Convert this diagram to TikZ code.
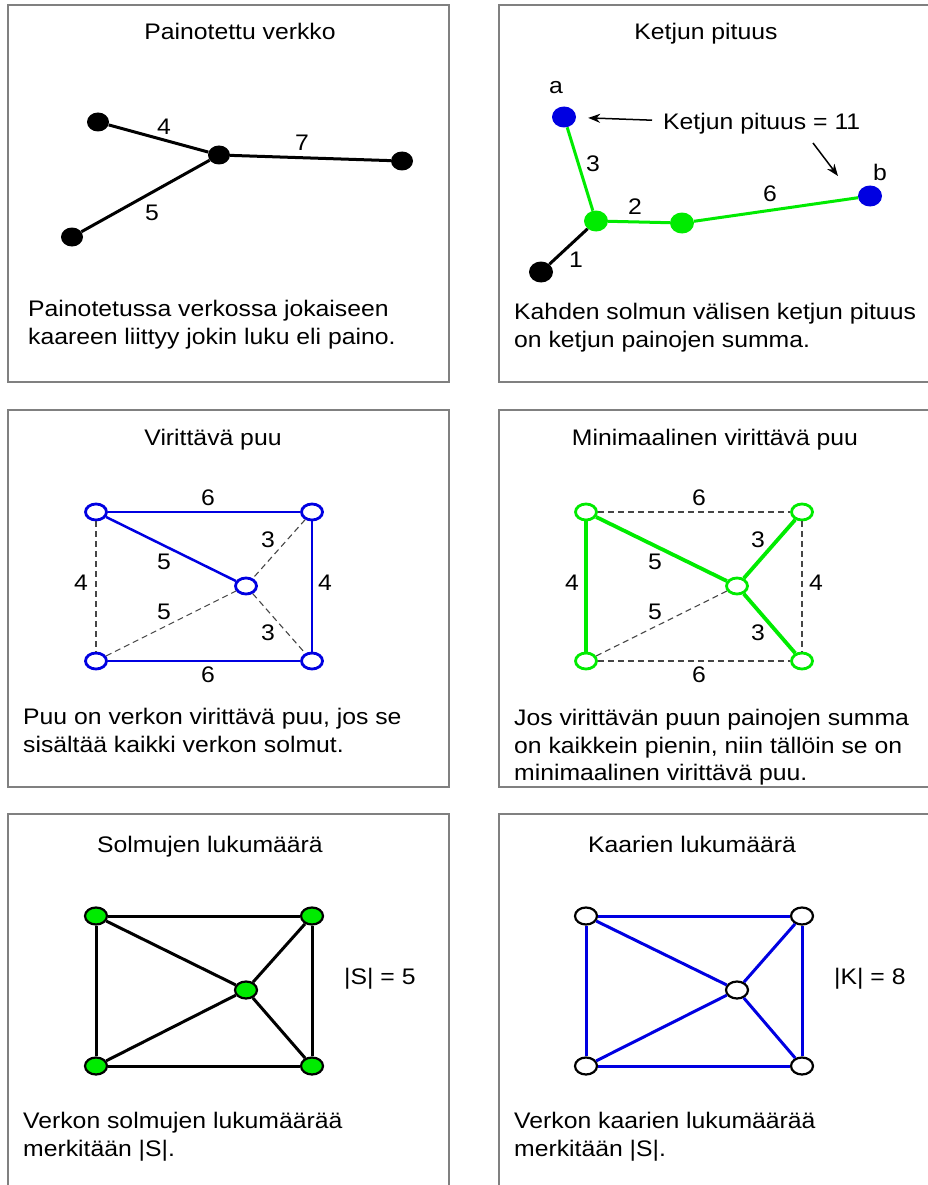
\documentclass[tikz,border=0pt]{standalone}
\usepackage{fontspec}
\setmainfont{Liberation Sans}
\usetikzlibrary{shapes.geometric,arrows.meta}

\definecolor{framegray}{RGB}{128,128,128}
\definecolor{netblue}{RGB}{0,0,225}
\definecolor{netgreen}{RGB}{0,235,0}
\definecolor{dashgray}{RGB}{70,70,70}

\begin{document}
\begin{tikzpicture}[
    x=1pt,
    y=-1pt,
    panel/.style={draw=framegray, line width=1.4pt},
    txt/.style={
        font=\fontsize{22.5}{27.5}\selectfont,
        xscale=1.1,
        inner sep=0pt
    },
    headline/.style={txt, anchor=base},
    caption/.style={txt, align=left, anchor=north west},
    weight/.style={txt},
    ball/.style={ellipse, inner sep=0pt, minimum width=22pt, minimum height=19pt},
    fullball/.style={ball, fill=#1},
    ringball/.style={
        ball,
        draw=#1,
        fill=white,
        line width=2.8pt,
        minimum width=21pt,
        minimum height=16pt
    },
    link/.style={draw=#1, line width=3pt},
    spare/.style={draw=dashgray, line width=1.1pt, dash pattern=on 6pt off 4pt},
    pointer/.style={line width=1.5pt, -{Stealth[length=12pt,width=9pt]}}
]
\useasboundingbox (0,0) rectangle (927,1185);

% Panel frames (the right and bottom ones run off the page)
\draw[panel] (8,5) rectangle (449,382);
\draw[panel] (499,5) rectangle (940,382);
\draw[panel] (8,410) rectangle (449,787);
\draw[panel] (499,410) rectangle (940,787);
\draw[panel] (8,814) rectangle (449,1200);
\draw[panel] (499,814) rectangle (940,1200);

% ---------------- Painotettu verkko
\node[headline] (t1) at (240,40) {Painotettu verkko};

\node[fullball=black] (p-l) at (98,122) {};
\node[fullball=black] (p-hub) at (219,155) {};
\node[fullball=black] (p-r) at (402,161) {};
\node[fullball=black] (p-b) at (72,237) {};

\draw[link=black] (p-l) -- (p-hub);
\draw[link=black] (p-hub) -- (p-r);
\draw[link=black] (p-b) -- (p-hub);

\node[weight] (p-w4) at (164,127) {4};
\node[weight] (p-w7) at (302,143) {7};
\node[weight] (p-w5) at (152,213) {5};

\node[caption] (c1) at (28,300)
    {Painotetussa verkossa jokaiseen\\kaareen liittyy jokin luku eli paino.};

% ---------------- Ketjun pituus
\node[headline] (t2) at (706,40) {Ketjun pituus};

\node[fullball=netblue, minimum width=24pt, minimum height=21pt] (a) at (564,117) {};
\node[fullball=netblue, minimum width=24pt, minimum height=21pt] (b) at (870,196) {};
\node[fullball=netgreen, minimum width=24pt, minimum height=21pt] (g1) at (596,221) {};
\node[fullball=netgreen, minimum width=24pt, minimum height=21pt] (g2) at (682,223) {};
\node[fullball=black, minimum width=24pt, minimum height=21pt] (end) at (541,272) {};

\draw[link=netgreen] (a) -- (g1);
\draw[link=netgreen] (g1) -- (g2);
\draw[link=netgreen] (g2) -- (b);
\draw[link=black] (end) -- (g1);

\node[txt] (a-lbl) at (556,88) {a};
\node[txt] (b-lbl) at (880,172) {b};
\node[weight] (k-w3) at (593,164) {3};
\node[weight] (k-w2) at (635,207) {2};
\node[weight] (k-w6) at (770,194) {6};
\node[weight] (k-w1) at (576,260) {1};

% length note with its two arrows
\node[txt, anchor=base west] (len) at (663,130) {Ketjun pituus = 11};
\draw[pointer, shorten <=11pt, shorten >=12pt] (len) -- (a);
\coordinate (tail-b) at (813,143);
\coordinate (head-b) at (838,176);
\draw[pointer] (tail-b) -- (head-b);

\node[caption] (c2) at (514,303)
    {Kahden solmun välisen ketjun pituus\\on ketjun painojen summa.};

% ---------------- Virittävä puu
\node[headline] (t3) at (213,445) {Virittävä puu};

\foreach \n/\dx/\dy in {tl/0/0, tr/216/0, c/150/74, bl/0/149, br/216/149}
    \node[ringball=netblue] (v-\n) at (96+\dx,512+\dy) {};

\foreach \u/\v in {tl/bl, bl/c, tr/c, c/br}
    \draw[spare] (v-\u) -- (v-\v);
\foreach \u/\v in {tl/tr, bl/br, tl/c, tr/br}
    \draw[link=netblue, line width=2.5pt] (v-\u) -- (v-\v);

\foreach \w/\x/\y [count=\i] in {6/208/498, 6/208/675, 5/164/562, 5/164/612,
                                 4/81/583, 4/325/583, 3/268/540, 3/268/633}
    \node[weight] (v-w\i) at (\x,\y) {\w};

\node[caption] (c3) at (23,708)
    {Puu on verkon virittävä puu, jos se\\sisältää kaikki verkon solmut.};

% ---------------- Minimaalinen virittävä puu
\node[headline] (t4) at (715,445) {Minimaalinen virittävä puu};

\foreach \n/\dx/\dy in {tl/0/0, tr/216/0, c/151/74, bl/0/149, br/216/149}
    \node[ringball=netgreen] (m-\n) at (586+\dx,512+\dy) {};

\foreach \u/\v in {tl/tr, bl/br, bl/c, tr/br}
    \draw[spare] (m-\u) -- (m-\v);
\foreach \u/\v in {tl/c, tl/bl, c/tr, c/br}
    \draw[link=netgreen, line width=3.8pt] (m-\u) -- (m-\v);

\foreach \w/\x/\y [count=\i] in {6/699/498, 6/699/675, 5/655/562, 5/655/612,
                                 4/572/583, 4/816/583, 3/758/540, 3/758/633}
    \node[weight] (m-w\i) at (\x,\y) {\w};

\node[caption] (c4) at (514,709)
    {Jos virittävän puun painojen summa\\on kaikkein pienin, niin tällöin se on\\minimaalinen virittävä puu.};

% ---------------- Solmujen lukumäärä
\node[headline] (t5) at (210,852) {Solmujen lukumäärä};

\foreach \n/\dx/\dy in {tl/0/0, tr/216/0, c/150/74, bl/0/150, br/216/150}
    \node[ball, draw=black, fill=netgreen, line width=2.2pt,
          minimum width=22pt, minimum height=17pt] (s-\n) at (96+\dx,916+\dy) {};

\foreach \u/\v in {tl/tr, tl/bl, tl/c, tr/c, tr/br, bl/br, bl/c, c/br}
    \draw[link=black] (s-\u) -- (s-\v);

\node[txt, anchor=base west] (s-count) at (344,984) {|S| = 5};

\node[caption] (c5) at (23,1112)
    {Verkon solmujen lukumäärää\\merkitään |S|.};

% ---------------- Kaarien lukumäärä
\node[headline] (t6) at (692,852) {Kaarien lukumäärä};

\foreach \n/\dx/\dy in {tl/0/0, tr/216/0, c/151/74, bl/0/150, br/216/150}
    \node[ringball=black, line width=2.2pt, minimum width=22pt,
          minimum height=17pt] (k-\n) at (586+\dx,916+\dy) {};

\foreach \u/\v in {tl/tr, tl/bl, tl/c, tr/c, tr/br, bl/br, bl/c, c/br}
    \draw[link=netblue] (k-\u) -- (k-\v);

\node[txt, anchor=base west] (k-count) at (834,984) {|K| = 8};

\node[caption] (c6) at (514,1112)
    {Verkon kaarien lukumäärää\\merkitään |S|.};

\end{tikzpicture}
\end{document}
